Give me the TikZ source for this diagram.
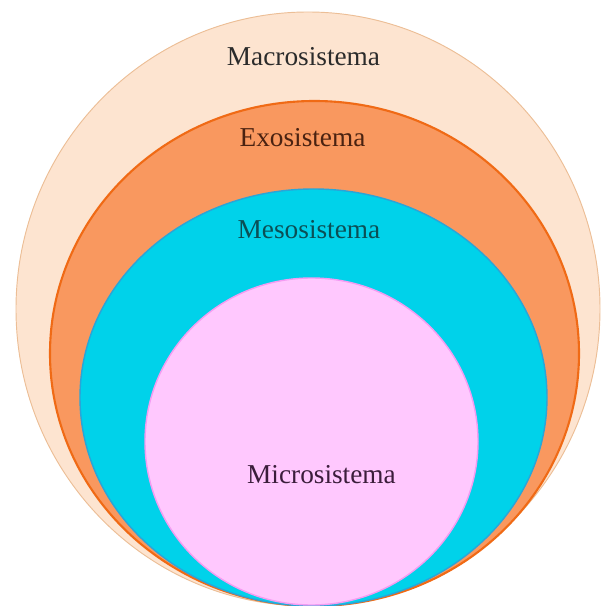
\documentclass[tikz,border=0pt]{standalone}
\usepackage{fontspec}
\setmainfont{Liberation Serif}
\usepackage{xcolor}
\definecolor{macrofill}{RGB}{253,228,208}
\definecolor{macroline}{RGB}{236,190,150}
\definecolor{exofill}{RGB}{249,152,95}
\definecolor{exoline}{RGB}{240,106,21}
\definecolor{mesofill}{RGB}{0,210,234}
\definecolor{mesoline}{RGB}{42,165,216}
\definecolor{microfill}{RGB}{255,200,254}
\definecolor{microline}{RGB}{244,156,242}
\definecolor{macrotext}{RGB}{43,43,43}
\definecolor{exotext}{RGB}{74,34,17}
\definecolor{mesotext}{RGB}{11,79,85}
\definecolor{microtext}{RGB}{59,29,59}
\usetikzlibrary{positioning}

\begin{document}
\begin{tikzpicture}[x=0.03cm, y=0.03cm,
    sistema/.style={font=\fontsize{23.3}{28}\selectfont, anchor=base, inner sep=0pt}]
  \useasboundingbox (0,0) rectangle (609,605);

  % --- Layers, outer to inner, all touching at the bottom ---
  \draw[fill=macrofill, draw=macroline, line width=0.8pt] (308,296) ellipse [x radius=292, y radius=297];
  \draw[fill=exofill, draw=exoline, line width=1.8pt] (314.5,251.5) ellipse [x radius=264.5, y radius=252.5];
  \draw[fill=mesofill, draw=mesoline, line width=1.2pt] (313.5,207.5) ellipse [x radius=233.5, y radius=208.5];
  \draw[fill=microfill, draw=microline, line width=1.2pt] (311.5,163.5) ellipse [x radius=166.5, y radius=163.5];

  % --- Labels ---
  \node[sistema, macrotext] (macro) at (303.5,539) {Macrosistema};
  \node[sistema, exotext]   (exo)   at (302.5,458) {Exosistema};
  \node[sistema, mesotext]  (meso)  at (309,366)   {Mesosistema};
  \node[sistema, microtext] (micro) at (321.5,121.5) {Microsistema};
\end{tikzpicture}
\end{document}
